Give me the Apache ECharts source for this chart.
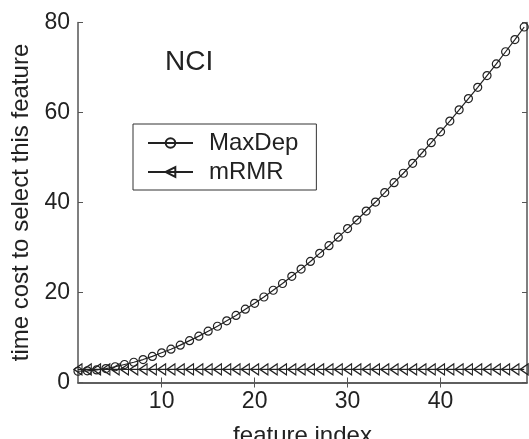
<!DOCTYPE html>
<html>
<head>
<meta charset="utf-8">
<script src="https://cdn.jsdelivr.net/npm/echarts@6/dist/echarts.min.js"></script>
<style>
  html, body { margin: 0; padding: 0; background: #fff; }
  #myChart1 { width: 529px; height: 439px; }
</style>
</head>
<body>
<div id="myChart1"></div>
<script>
var featureIndex = [];
for (var i = 1; i <= 49; i++) featureIndex.push(i);

// values
var maxDep = [2.5, 2.6, 2.8, 3.1, 3.5, 4.0, 4.5, 5.1, 5.8, 6.6,
              7.4, 8.3, 9.3, 10.3, 11.4, 12.5, 13.7, 14.9, 16.3, 17.6,
              19.0, 20.5, 22.0, 23.6, 25.2, 26.9, 28.7, 30.4, 32.3, 34.2,
              36.1, 38.1, 40.1, 42.2, 44.4, 46.5, 48.7, 51.0, 53.3, 55.7,
              58.1, 60.6, 63.1, 65.6, 68.2, 70.8, 73.5, 76.2, 79.0];
var mRMR = [2.9, 2.9, 2.9, 2.9, 2.9, 2.9, 2.9, 2.9, 2.9, 2.9,
            2.9, 2.9, 2.9, 2.9, 2.9, 2.9, 2.9, 2.9, 2.9, 2.9,
            2.9, 2.9, 2.9, 2.9, 2.9, 2.9, 2.9, 2.9, 2.9, 2.9,
            2.9, 2.9, 2.9, 2.9, 2.9, 2.9, 2.9, 2.9, 2.9, 2.9,
            2.9, 2.9, 2.9, 2.9, 2.9, 2.9, 2.9, 2.9, 2.9];
var xTicks = [10, 20, 30, 40];

function pairs(xs, ys) {
    return xs.map(function (x, k) { return [x, ys[k]]; });
}

var font = 'Liberation Sans, Arial, Helvetica, sans-serif';
var axisColor = '#555';
var inkColor = '#222';

var tickStyle = { inside: true, length: 5, lineStyle: { color: axisColor, width: 1 } };

var option = {
    animation: false,
    backgroundColor: '#fff',
    title: {
        text: 'NCI',
        left: 165,
        top: 48,
        padding: 0,
        textStyle: { fontFamily: font, fontSize: 28, fontWeight: 'normal', color: inkColor }
    },
    legend: {
        orient: 'vertical',
        left: 133,
        top: 124,
        padding: [7, 18, 6, 14],
        itemGap: 5,
        itemWidth: 45,
        itemHeight: 12,
        borderColor: '#333',
        borderWidth: 1,
        textStyle: { fontFamily: font, fontSize: 24, color: inkColor, padding: [0, 0, 0, 11] },
        data: ['MaxDep', 'mRMR']
    },
    grid: { left: 78, right: 2, top: 22.5, bottom: 56.5, outerBoundsMode: 'none' },
    xAxis: [{
        type: 'value',
        min: 1,
        max: 49.3,
        name: 'feature index',
        nameLocation: 'middle',
        nameGap: 42,
        nameTextStyle: { fontFamily: font, fontSize: 24, color: inkColor },
        axisLine: { show: true, lineStyle: { color: axisColor, width: 1.5 } },
        axisTick: Object.assign({ customValues: xTicks }, tickStyle),
        axisLabel: { customValues: xTicks, margin: 8, fontFamily: font, fontSize: 23, color: inkColor },
        splitLine: { show: false }
    }, {
        type: 'value',
        position: 'top',
        min: 1,
        max: 49.3,
        axisLine: { show: true, lineStyle: { color: axisColor, width: 1.5 } },
        axisTick: Object.assign({ customValues: xTicks }, tickStyle),
        axisLabel: { show: false },
        splitLine: { show: false }
    }],
    yAxis: [{
        type: 'value',
        min: 0,
        max: 80,
        interval: 20,
        name: 'time cost to select this feature',
        nameLocation: 'middle',
        nameGap: 44,
        nameTextStyle: { fontFamily: font, fontSize: 24, color: inkColor },
        axisLine: { show: true, lineStyle: { color: axisColor, width: 1.5 } },
        axisTick: tickStyle,
        axisLabel: { margin: 8, fontFamily: font, fontSize: 23, color: inkColor },
        splitLine: { show: false }
    }, {
        type: 'value',
        position: 'right',
        min: 0,
        max: 80,
        interval: 20,
        axisLine: { show: true, lineStyle: { color: axisColor, width: 1.5 } },
        axisTick: tickStyle,
        axisLabel: { show: false },
        splitLine: { show: false }
    }],
    series: [
        {
            name: 'MaxDep',
            type: 'line',
            data: pairs(featureIndex, maxDep),
            symbol: 'circle',
            symbolSize: 8,
            lineStyle: { color: inkColor, width: 1.2 },
            itemStyle: { color: 'rgba(0,0,0,0)', borderColor: inkColor, borderWidth: 1.2 }
        },
        {
            name: 'mRMR',
            type: 'line',
            data: pairs(featureIndex, mRMR),
            symbol: 'triangle',
            symbolRotate: 90,
            symbolSize: [11, 8],
            lineStyle: { color: inkColor, width: 1.2 },
            itemStyle: { color: 'rgba(0,0,0,0)', borderColor: inkColor, borderWidth: 1.2 }
        }
    ]
};

var myChart1 = echarts.init(document.getElementById('myChart1'));
myChart1.setOption(option);
</script>
</body>
</html>
